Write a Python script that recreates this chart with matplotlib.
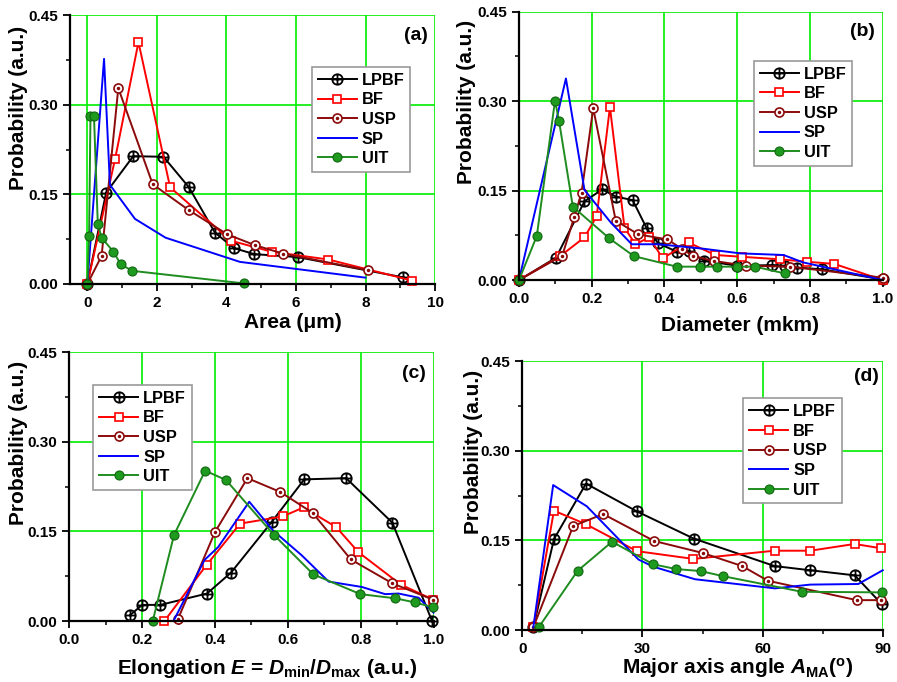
import matplotlib
matplotlib.use("Agg")
import matplotlib.pyplot as plt
from matplotlib.path import Path
from matplotlib.ticker import MultipleLocator, FormatStrFormatter

plt.rcParams['font.family'] = ['Liberation Sans', 'DejaVu Sans']
plt.rcParams['font.weight'] = 'bold'
plt.rcParams['mathtext.fontset'] = 'custom'
plt.rcParams['mathtext.rm'] = 'Liberation Sans:bold'
plt.rcParams['mathtext.bf'] = 'Liberation Sans:bold'
plt.rcParams['mathtext.it'] = 'Liberation Sans:bold:italic'

series_names = ["LPBF", "BF", "USP", "SP", "UIT"]

# ---------------- Panel (a): Area ----------------
a_lpbf_x = [0.0, 0.54, 1.32, 2.19, 2.92, 3.67, 4.22, 4.80, 6.05, 9.09]
a_lpbf_y = [0.0, 0.153, 0.214, 0.213, 0.162, 0.086, 0.060, 0.050, 0.045, 0.011]
a_bf_x = [0.0, 0.80, 1.47, 2.38, 4.13, 5.30, 6.93, 9.35]
a_bf_y = [0.0, 0.210, 0.405, 0.162, 0.0725, 0.054, 0.041, 0.0056]
a_usp_x = [0.0, 0.41, 0.89, 1.88, 2.91, 4.03, 4.82, 5.62, 8.07]
a_usp_y = [0.0, 0.047, 0.328, 0.167, 0.124, 0.083, 0.065, 0.051, 0.023]
a_sp_x = [0.0, 0.48, 0.65, 1.37, 2.25, 4.39, 8.0]
a_sp_y = [0.0, 0.377, 0.166, 0.109, 0.0775, 0.037, 0.0106]
a_uit_x = [0.0, 0.05, 0.09, 0.19, 0.30, 0.41, 0.75, 0.96, 1.29, 4.50]
a_uit_y = [0.0, 0.081, 0.282, 0.282, 0.101, 0.0775, 0.054, 0.033, 0.022, 0.001]

# ---------------- Panel (b): Diameter ----------------
b_lpbf_x = [0.0, 0.102, 0.18, 0.229, 0.266, 0.3125, 0.351, 0.383, 0.434, 0.466,
            0.509, 0.599, 0.695, 0.731, 0.763, 0.832, 1.0]
b_lpbf_y = [0.0, 0.0375, 0.132, 0.152, 0.140, 0.134, 0.0867, 0.0615, 0.0475, 0.049,
            0.0324, 0.024, 0.025, 0.024, 0.021, 0.018, 0.001]
b_bf_x = [0.0, 0.113, 0.18, 0.2136, 0.25, 0.29, 0.32, 0.358, 0.395, 0.466,
          0.539, 0.612, 0.718, 0.791, 0.867, 1.0]
b_bf_y = [0.0, 0.040, 0.0716, 0.107, 0.290, 0.088, 0.060, 0.0716, 0.0363, 0.063,
          0.042, 0.039, 0.0347, 0.0307, 0.027, 0.0]
b_usp_x = [0.0, 0.119, 0.152, 0.172, 0.204, 0.266, 0.328, 0.408, 0.449, 0.479,
           0.536, 0.624, 0.745, 1.0]
b_usp_y = [0.0, 0.041, 0.106, 0.1465, 0.288, 0.0995, 0.0766, 0.068, 0.052, 0.040,
           0.032, 0.024, 0.0224, 0.004]
b_sp_x = [0.0, 0.129, 0.18, 0.253, 0.31, 0.383, 0.507, 0.608, 0.727, 0.781, 1.0]
b_sp_y = [0.0, 0.338, 0.151, 0.096, 0.060, 0.060, 0.0525, 0.0447, 0.042, 0.0296, 0.0]
b_uit_x = [0.0, 0.049, 0.099, 0.11, 0.148, 0.248, 0.316, 0.434, 0.498, 0.5435,
           0.60, 0.649, 0.731]
b_uit_y = [0.0, 0.074, 0.301, 0.267, 0.123, 0.070, 0.040, 0.0224, 0.0224, 0.0224,
           0.0224, 0.0224, 0.011]

# ---------------- Panel (c): Elongation ----------------
c_lpbf_x = [0.167, 0.20, 0.25, 0.378, 0.444, 0.556, 0.645, 0.760, 0.887, 0.996]
c_lpbf_y = [0.010, 0.027, 0.027, 0.046, 0.081, 0.166, 0.237, 0.239, 0.1645, 0.0]
c_bf_x = [0.261, 0.377, 0.469, 0.586, 0.643, 0.733, 0.794, 0.910, 0.998]
c_bf_y = [0.0, 0.094, 0.163, 0.175, 0.190, 0.157, 0.115, 0.061, 0.036]
c_usp_x = [0.298, 0.40, 0.489, 0.579, 0.668, 0.773, 0.887, 0.998]
c_usp_y = [0.003, 0.149, 0.239, 0.216, 0.181, 0.103, 0.063, 0.036]
c_sp_x = [0.286, 0.371, 0.409, 0.494, 0.56, 0.638, 0.712, 0.803, 0.867, 0.904, 0.959, 1.0]
c_sp_y = [0.0, 0.102, 0.124, 0.1996, 0.151, 0.110, 0.066, 0.057, 0.045, 0.046, 0.039, 0.014]
c_uit_x = [0.229, 0.2875, 0.373, 0.430, 0.562, 0.670, 0.799, 0.895, 0.950, 0.998]
c_uit_y = [0.0, 0.144, 0.2515, 0.236, 0.144, 0.078, 0.045, 0.038, 0.031, 0.023]

# ---------------- Panel (d): Major axis angle ----------------
d_lpbf_x = [2.75, 7.9, 15.9, 28.6, 42.8, 63.0, 71.9, 83.0, 89.8]
d_lpbf_y = [0.0045, 0.152, 0.245, 0.1985, 0.153, 0.107, 0.100, 0.0915, 0.043]
d_bf_x = [2.75, 7.9, 15.9, 28.6, 42.7, 63.0, 71.9, 83.0, 89.6]
d_bf_y = [0.0045, 0.1997, 0.177, 0.132, 0.119, 0.1327, 0.1327, 0.144, 0.1367]
d_usp_x = [2.75, 12.7, 20.2, 32.9, 45.0, 54.9, 61.3, 83.5, 89.6]
d_usp_y = [0.0045, 0.174, 0.194, 0.149, 0.129, 0.107, 0.0825, 0.050, 0.050]
d_sp_x = [2.75, 7.7, 16.1, 29.0, 32.7, 43.1, 63.1, 71.9, 83.9, 90.0]
d_sp_y = [0.0045, 0.2425, 0.207, 0.118, 0.106, 0.085, 0.0697, 0.076, 0.077, 0.100]
d_uit_x = [4.2, 13.8, 22.4, 32.7, 38.4, 44.5, 50.2, 69.8, 89.7]
d_uit_y = [0.0056, 0.099, 0.1477, 0.110, 0.102, 0.0987, 0.090, 0.064, 0.063]

y_ticks = [0.00, 0.15, 0.30, 0.45]

# ---------------- markers ----------------
def _seg(p0, p1):
    return Path([p0, p1], [Path.MOVETO, Path.LINETO])

oplus = Path.make_compound_path(Path.unit_circle(), _seg((-1, 0), (1, 0)), _seg((0, -1), (0, 1)))
circ = Path.unit_circle()
odot = Path.make_compound_path(circ, Path(circ.vertices * 0.2, circ.codes))

styles = {
    "LPBF": dict(color="black", marker=oplus, mfc="none", mec="black", ms=7.5, mew=1.3),
    "BF": dict(color="#ff0000", marker="s", mfc="white", mec="#ff0000", ms=5.2, mew=1.2),
    "USP": dict(color="#8b0a0a", marker=odot, mfc="white", mec="#8b0a0a", ms=6.5, mew=1.2),
    "SP": dict(color="#0000ff", marker="None"),
    "UIT": dict(color="#1e8c1e", marker="o", mfc="#1e9a1e", mec="#116611", ms=6.5, mew=0.8),
}

panels = [
    dict(data=[(a_lpbf_x, a_lpbf_y), (a_bf_x, a_bf_y), (a_usp_x, a_usp_y), (a_sp_x, a_sp_y), (a_uit_x, a_uit_y)],
         rect=[0.078, 0.5836, 0.407, 0.394], xlim=(-0.5, 10), xmaj=2, xmin=1, xfmt="%d",
         xlabel="Area (\u03bcm)", xlab_pos=(0.611, -0.145), ylab_pos=(-0.14, 0.655),
         tag="(a)", tag_pos=(0.947, 0.926), leg_pos=(0.663, 0.807)),
    dict(data=[(b_lpbf_x, b_lpbf_y), (b_bf_x, b_bf_y), (b_usp_x, b_usp_y), (b_sp_x, b_sp_y), (b_uit_x, b_uit_y)],
         rect=[0.5786, 0.5894, 0.4055, 0.3934], xlim=(0, 1), xmaj=0.2, xmin=0.1, xfmt="%.1f",
         xlabel="Diameter (mkm)", xlab_pos=(0.608, -0.168), ylab_pos=(-0.143, 0.663),
         tag="(b)", tag_pos=(0.944, 0.925), leg_pos=(0.646, 0.817)),
    dict(data=[(c_lpbf_x, c_lpbf_y), (c_bf_x, c_bf_y), (c_usp_x, c_usp_y), (c_sp_x, c_sp_y), (c_uit_x, c_uit_y)],
         rect=[0.0773, 0.0894, 0.406, 0.3944], xlim=(0, 1), xmaj=0.2, xmin=0.1, xfmt="%.1f",
         xlabel="Elongation $E$ = $D_{\\mathrm{min}}$/$D_{\\mathrm{max}}$ (a.u.)", xlab_pos=(0.542, -0.175),
         ylab_pos=(-0.14, 0.662),
         tag="(c)", tag_pos=(0.945, 0.921), leg_pos=(0.066, 0.877)),
    dict(data=[(d_lpbf_x, d_lpbf_y), (d_bf_x, d_bf_y), (d_usp_x, d_usp_y), (d_sp_x, d_sp_y), (d_uit_x, d_uit_y)],
         rect=[0.5823, 0.0762, 0.4018, 0.3944], xlim=(0, 90), xmaj=30, xmin=15, xfmt="%d",
         xlabel="Major axis angle $A_{\\mathrm{MA}}$($^{\\mathrm{o}}$)", xlab_pos=(0.596, -0.141),
         ylab_pos=(-0.135, 0.662),
         tag="(d)", tag_pos=(0.956, 0.942), leg_pos=(0.613, 0.861)),
]

fig = plt.figure(figsize=(8.97, 6.82), dpi=100)

for p in panels:
    ax = fig.add_axes(p["rect"])
    ax.set_xlim(*p["xlim"])
    ax.set_ylim(0, 0.45)
    ax.xaxis.set_major_locator(MultipleLocator(p["xmaj"]))
    ax.xaxis.set_minor_locator(MultipleLocator(p["xmin"]))
    ax.xaxis.set_major_formatter(FormatStrFormatter(p["xfmt"]))
    ax.set_yticks(y_ticks)
    ax.yaxis.set_minor_locator(MultipleLocator(0.075))
    ax.yaxis.set_major_formatter(FormatStrFormatter("%.2f"))
    ax.grid(True, which="major", color="#00ee00", lw=1.2, zorder=0)
    ax.set_axisbelow(True)
    for s in ("top", "right"):
        ax.spines[s].set_visible(False)
    for s in ("left", "bottom"):
        ax.spines[s].set_linewidth(1.6)
        ax.spines[s].set_zorder(5)
    ax.tick_params(which="major", direction="out", length=5, width=1.3, labelsize=11)
    ax.tick_params(which="minor", direction="out", length=3, width=1.1)
    for lbl in ax.get_xticklabels() + ax.get_yticklabels():
        lbl.set_fontweight("bold")

    handles = []
    for name, (xs, ys) in zip(series_names, p["data"]):
        st = styles[name]
        h, = ax.plot(xs, ys, lw=1.4, label=name, zorder=3, clip_on=False, **st)
        handles.append(h)

    leg = ax.legend(handles=handles, loc="upper left", bbox_to_anchor=p["leg_pos"],
                    fancybox=False, framealpha=1, edgecolor="#999999",
                    prop=dict(weight="bold", size=11.8), handlelength=2.4,
                    handletextpad=0.3, labelspacing=0.28, borderpad=0.35,
                    markerscale=1.0, borderaxespad=0)
    leg.get_frame().set_linewidth(1.2)
    leg.set_zorder(6)

    ax.set_xlabel(p["xlabel"], fontsize=15, fontweight="bold", va="center")
    ax.xaxis.set_label_coords(*p["xlab_pos"])
    ax.set_ylabel("Probability (a.u.)", fontsize=15, fontweight="bold", va="center")
    ax.yaxis.set_label_coords(*p["ylab_pos"])
    ax.text(p["tag_pos"][0], p["tag_pos"][1], p["tag"], transform=ax.transAxes,
            ha="center", va="center", fontsize=14, fontweight="bold")

fig.savefig("out.png", dpi=100)
